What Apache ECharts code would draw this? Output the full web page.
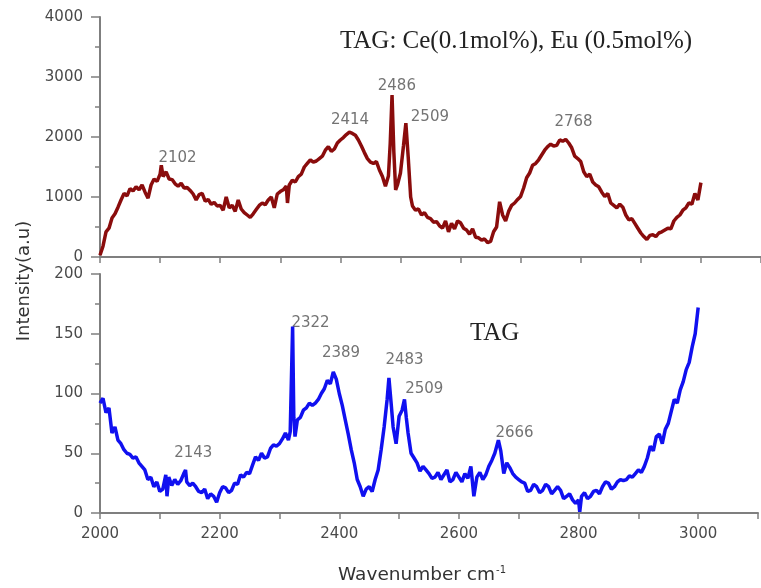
<!DOCTYPE html>
<html>
<head>
<meta charset="utf-8">
<script src="https://cdn.jsdelivr.net/npm/echarts@6/dist/echarts.min.js"></script>
<style>html,body{margin:0;padding:0;background:#fff}#c{width:761px;height:588px}</style>
</head>
<body>
<div id="c"></div>
<script>
// ---- Data ----
const topWn = [2000,2005,2010,2015,2020,2025,2030,2035,2040,2045,2050,2055,2060,2065,2070,2075,2080,2085,2090,2095,2100,2102,2105,2110,2115,2120,2125,2130,2135,2140,2145,2150,2155,2160,2165,2170,2175,2180,2185,2190,2195,2200,2205,2210,2215,2220,2225,2230,2235,2240,2245,2250,2255,2260,2265,2270,2275,2280,2285,2290,2295,2300,2305,2310,2312,2315,2320,2325,2330,2335,2340,2345,2350,2355,2360,2365,2370,2375,2380,2385,2390,2395,2400,2405,2410,2415,2420,2425,2430,2435,2440,2445,2450,2455,2460,2465,2470,2475,2480,2483,2486,2489,2492,2495,2500,2505,2509,2513,2517,2520,2525,2530,2535,2540,2545,2550,2555,2560,2565,2570,2575,2580,2585,2590,2595,2600,2605,2610,2615,2620,2625,2630,2635,2640,2645,2650,2655,2660,2665,2670,2675,2680,2685,2690,2695,2700,2705,2710,2715,2720,2725,2730,2735,2740,2745,2750,2755,2760,2765,2770,2775,2780,2785,2790,2795,2800,2805,2810,2815,2820,2825,2830,2835,2840,2845,2850,2855,2860,2865,2870,2875,2880,2885,2890,2895,2900,2905,2910,2915,2920,2925,2930,2935,2940,2945,2950,2955,2960,2965,2970,2975,2980,2985,2990,2995,3000];
const topVal = [30,180,420,480,650,720,830,950,1060,1020,1140,1100,1170,1120,1200,1080,980,1200,1300,1260,1380,1530,1340,1420,1300,1290,1220,1180,1230,1150,1160,1110,1050,950,1040,1060,930,960,880,910,850,860,780,1000,820,860,760,950,800,740,700,660,720,790,860,900,870,950,1000,820,1050,1090,1120,1180,900,1200,1280,1250,1340,1380,1500,1560,1620,1580,1600,1640,1680,1780,1840,1760,1800,1900,1950,1990,2040,2080,2060,2030,1950,1850,1740,1640,1580,1560,1590,1450,1340,1180,1350,1900,2700,1750,1120,1200,1400,1850,2230,1650,1000,850,780,800,700,740,660,640,580,590,520,480,600,420,560,470,600,570,480,450,380,470,330,320,280,300,240,260,420,500,920,700,600,760,860,900,960,1010,1150,1320,1400,1530,1560,1620,1700,1780,1840,1880,1850,1860,1950,1930,1960,1900,1820,1680,1640,1590,1420,1340,1380,1250,1200,1170,1080,1010,1060,900,860,820,880,830,700,620,640,560,480,400,340,290,360,370,340,400,420,450,480,470,600,660,700,780,820,900,880,1060,950,1240];

const botWn = [2000,2005,2010,2015,2020,2025,2030,2035,2040,2045,2050,2055,2060,2065,2070,2075,2080,2085,2090,2095,2100,2105,2110,2112,2115,2120,2125,2130,2135,2140,2143,2145,2150,2155,2160,2165,2170,2175,2180,2185,2190,2195,2200,2205,2210,2215,2220,2225,2230,2235,2240,2245,2250,2255,2260,2265,2270,2275,2280,2285,2290,2295,2300,2305,2310,2315,2318,2322,2324,2326,2330,2335,2340,2345,2350,2355,2360,2365,2370,2375,2380,2385,2390,2395,2400,2405,2410,2415,2420,2425,2430,2435,2440,2445,2450,2455,2460,2465,2470,2475,2480,2483,2487,2490,2495,2500,2505,2509,2512,2515,2520,2525,2530,2535,2540,2545,2550,2555,2560,2565,2570,2575,2580,2585,2590,2595,2600,2605,2610,2615,2620,2625,2630,2635,2640,2645,2650,2655,2660,2666,2670,2675,2680,2685,2690,2695,2700,2705,2710,2715,2720,2725,2730,2735,2740,2745,2750,2755,2760,2765,2770,2775,2780,2785,2790,2795,2800,2802,2805,2810,2815,2820,2825,2830,2835,2840,2845,2850,2855,2860,2865,2870,2875,2880,2885,2890,2895,2900,2905,2910,2915,2920,2925,2930,2935,2940,2945,2950,2955,2960,2965,2970,2975,2980,2985,2990,2995,3000];
const botVal = [92,96,84,88,67,72,61,58,53,50,49,46,47,42,39,36,28,30,22,26,18,20,32,14,30,23,28,24,27,33,36,26,23,25,22,18,17,20,12,16,14,9,17,22,21,17,19,25,24,32,30,34,33,40,47,44,50,46,47,54,57,56,58,62,67,61,68,156,80,64,78,80,86,88,92,90,92,95,100,104,111,108,118,112,100,90,78,66,53,42,28,22,14,20,22,18,28,36,53,72,95,113,90,72,58,81,86,95,80,67,50,46,42,35,39,36,33,29,30,34,28,32,36,26,28,34,30,26,33,29,39,14,30,34,28,32,39,44,50,61,52,33,42,38,33,30,28,26,25,18,19,24,22,17,19,24,22,16,19,22,19,12,14,16,11,8,11,1,14,17,12,14,18,19,16,22,26,25,20,22,26,28,27,28,31,30,33,36,34,39,46,56,52,64,66,58,70,75,85,95,92,103,110,120,126,139,150,172];

// peak annotations: [label, x, y] in data units
const topPeaks = [['2102',2129,1650],['2414',2416,2283],['2486',2494,2850],['2509',2549,2333],['2768',2788,2250]];
const botPeaks = [['2322',2352,159],['2389',2403,134],['2483',2509,128],['2509',2542,104],['2143',2156,50],['2666',2693,67]];

const topYTicks = {min:0, max:4000, interval:1000};
const botYTicks = {min:0, max:200, interval:50};
const xTicks = {min:2000, max:3100, interval:100};

const axisGray = '#7f7f7f';
const txtGray = '#4a4a4a';
const sans = 'DejaVu Sans';

function xAxisCfg(gridIndex, showLabels){
  return {
    type:'value', gridIndex, min:xTicks.min, max:xTicks.max, interval:xTicks.interval,
    axisLine:{show:true, onZero:false, lineStyle:{color:axisGray, width:2}},
    axisTick:{show:true, inside:false, length:6, lineStyle:{color:axisGray, width:1.5}},
    splitLine:{show:false},
    axisLabel:{show:showLabels, margin:14, color:txtGray, fontFamily:sans, fontSize:15,
      formatter:v => (v % 200 === 0 && v <= 3000) ? String(v) : ''}
  };
}
function yAxisCfg(gridIndex, t){
  return {
    type:'value', gridIndex, min:t.min, max:t.max, interval:t.interval,
    axisLine:{show:true, lineStyle:{color:axisGray, width:2}},
    axisTick:{show:true, length:9, lineStyle:{color:axisGray, width:1.5}},
    minorTick:{show:true, splitNumber:2, length:5, lineStyle:{color:axisGray, width:1.5}},
    splitLine:{show:false},
    axisLabel:{margin:17, color:txtGray, fontFamily:sans, fontSize:15, formatter:v => String(v)}
  };
}
function peakSeries(list, xi, yi){
  return {
    type:'scatter', xAxisIndex:xi, yAxisIndex:yi, symbolSize:0, silent:true,
    data:list.map(p => ({name:p[0], value:[p[1], p[2]]})),
    label:{show:true, position:'inside', formatter:'{b}', color:'#505050', fontFamily:sans, fontSize:15}
  };
}

const chart = echarts.init(document.getElementById('c'), null, {renderer:'canvas'});
chart.setOption({
  animation:false,
  backgroundColor:'#ffffff',
  grid:[
    {left:100, top:17, right:-2, height:240},
    {left:100, top:274, right:-2, height:239}
  ],
  xAxis:[xAxisCfg(0,false), xAxisCfg(1,true)],
  yAxis:[yAxisCfg(0, topYTicks), yAxisCfg(1, botYTicks)],
  series:[
    {type:'line', xAxisIndex:0, yAxisIndex:0, showSymbol:false, symbol:'none',
     data:topWn.map((x,i)=>[x, topVal[i]]), lineStyle:{color:'#8a0c0c', width:3.5}},
    {type:'line', xAxisIndex:1, yAxisIndex:1, showSymbol:false, symbol:'none',
     data:botWn.map((x,i)=>[x, botVal[i]]), lineStyle:{color:'#1010f0', width:3.5}},
    peakSeries(topPeaks,0,0),
    peakSeries(botPeaks,1,1)
  ],
  graphic:[
    {type:'text', left:340, top:29, style:{text:'TAG: Ce(0.1mol%), Eu (0.5mol%)', fill:'#222', font:'25px "Liberation Serif"'}},
    {type:'text', left:470, top:321, style:{text:'TAG', fill:'#222', font:'25px "Liberation Serif"'}},
    {type:'text', x:24, y:281, rotation:Math.PI/2,
     style:{text:'Intensity(a.u)', fill:'#333', font:'18px "DejaVu Sans"', align:'center', verticalAlign:'middle'}},
    {type:'text', x:338, y:575,
     style:{text:'{a|Wavenumber cm}{s|-1}', verticalAlign:'middle', align:'left',
       rich:{a:{fontFamily:sans, fontSize:18.5, fill:'#333', color:'#333'},
             s:{fontFamily:sans, fontSize:10, fill:'#333', color:'#333', verticalAlign:'top', padding:[0,0,8,1]}}}}
  ]
});
</script>
</body>
</html>
